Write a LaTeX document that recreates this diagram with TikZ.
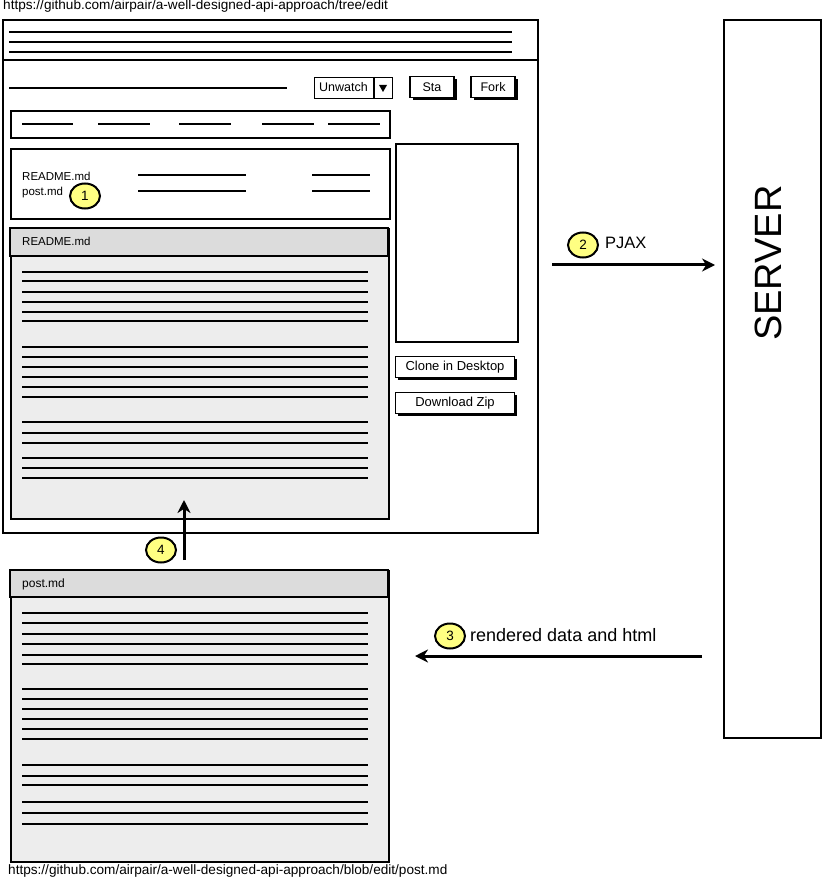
\documentclass[tikz,border=0pt]{standalone}
\usepackage{fontspec}
\setmainfont{Liberation Sans}
\usetikzlibrary{arrows.meta,shapes.geometric,shadows}
\definecolor{hdrgray}{RGB}{220,220,220}
\definecolor{bodygray}{RGB}{237,237,237}
\definecolor{badgeyellow}{RGB}{255,255,130}
\begin{document}
\begin{tikzpicture}[x=1pt,y=-1pt,
  frame/.style={draw=black,line width=1.6pt,inner sep=0pt,anchor=north west},
  txtline/.style={line width=1.3pt},
  sketchline/.style={line width=1.5pt},
  btn/.style={draw=black,line width=1.2pt,fill=white,inner sep=0pt,minimum height=21pt,
    font=\fontsize{12.5}{14}\selectfont,
    drop shadow={shadow xshift=2.5pt,shadow yshift=-2.5pt,fill=black,opacity=1}},
  label/.style={inner sep=0pt,anchor=west},
  badge/.style={ellipse,draw=black,line width=2pt,fill=badgeyellow,inner sep=0pt,
    minimum width=30pt,minimum height=25pt,font=\fontsize{13.5}{14}\selectfont},
  flow/.style={line width=3pt,-{Stealth[length=13pt,width=13pt]}}
]
\useasboundingbox (0,0) rectangle (823,882);
\fill[white] (0,0) rectangle (823,882);

% top url
\node[label] (urltop) at (3,6) {\fontsize{13.6}{15}\selectfont https://github.com/airpair/a-well-designed-api-approach/tree/edit};

% browser window
\node[frame,minimum width=535pt,minimum height=513pt] (browser) at (2,19) {};
\draw[line width=1.6pt] (2,60) -- (537,60);
\foreach \y in {32,42,52} \draw[sketchline] (9,\y) -- (512,\y);
\draw[sketchline] (9,88) -- (287,88);

% unwatch / star / fork
\node[draw=black,line width=1.2pt,inner sep=0pt,minimum width=78pt,minimum height=21pt,anchor=north west] (unwatch) at (314,77) {};
\node[label,font=\fontsize{12.5}{14}\selectfont] (unwatchtxt) at (319,87.5) {Unwatch};
\draw[line width=1.2pt] (374,77) -- (374,98);
\fill (379,85) -- (387,85) -- (383,92) -- cycle;
\node[btn,minimum width=44pt] (star) at (432,87) {Sta};
\node[btn,minimum width=44pt] (fork) at (493,87) {Fork};

% tab bar
\node[frame,minimum width=379pt,minimum height=27pt] (tabs) at (10,110) {};
\foreach \a/\b in {22/73,98/150,179/231,262/314,328/380} \draw[sketchline] (\a,124) -- (\b,124);

% file list
\node[frame,minimum width=379pt,minimum height=70pt] (files) at (10,148) {};
\node[label,font=\fontsize{11.5}{13}\selectfont] (readmeitem) at (22,176) {README.md};
\node[label,font=\fontsize{11.5}{13}\selectfont] (postitem) at (22,193) {post.md};
\foreach \y in {175,191} {\draw[sketchline] (138,\y) -- (246,\y); \draw[sketchline] (312,\y) -- (370,\y);}
\node[badge] (b1) at (85,196) {1};

% sidebar
\node[frame,minimum width=122pt,minimum height=198pt] (sidebar) at (395,143) {};
\node[btn,minimum width=119pt,font=\fontsize{13}{14}\selectfont] (clone) at (455,367) {Clone in Desktop};
\node[btn,minimum width=119pt,font=\fontsize{13}{14}\selectfont] (download) at (455,403) {Download Zip};

% README panel
\node[frame,fill=bodygray,minimum width=378pt,minimum height=290pt] (readme) at (10,228) {};
\draw[line width=1.6pt,fill=hdrgray] (10,228) rectangle (388,256);
\node[label,font=\fontsize{11.5}{13}\selectfont] (readmehdr) at (22,241) {README.md};
\foreach \y in {272,281,292,302,312,321,347,357,367,377,387,397,422,433,443,458,468,478}
  \draw[txtline] (22,\y) -- (368,\y);

% post.md panel
\node[frame,fill=bodygray,minimum width=378pt,minimum height=291pt] (postpanel) at (10,570) {};
\draw[line width=1.6pt,fill=hdrgray] (10,570) rectangle (388,597);
\node[label,font=\fontsize{12}{13}\selectfont] (posthdr) at (22,584) {post.md};
\foreach \y in {613,623,634,644,655,664,689,699,709,719,729,739,765,776,785,802,813,824}
  \draw[txtline] (22,\y) -- (368,\y);

% bottom url
\node[label] (urlbottom) at (8,871) {\fontsize{13.6}{15}\selectfont https://github.com/airpair/a-well-designed-api-approach/blob/edit/post.md};

% server
\node[frame,minimum width=97pt,minimum height=718pt] (server) at (723,19) {};
\node[rotate=90,inner sep=0pt,font=\fontsize{38}{40}\selectfont] (servertxt) at (768,263) {SERVER};

% arrow 2
\coordinate (a2start) at (552,265);
\draw[flow,shorten >=8pt] (a2start) -- (a2start -| server.west);
\node[badge] (b2) at (583,245) {2};
\node[label,font=\fontsize{16.5}{18}\selectfont] (pjax) at (605,243) {PJAX};

% arrow 3
\coordinate (a3end) at (415,656);
\draw[flow,shorten <=21pt] (server.west |- a3end) -- (a3end);
\node[badge] (b3) at (450,636) {3};
\node[label,font=\fontsize{18}{20}\selectfont] (rendered) at (470,635) {rendered data and html};

% arrow 4
\coordinate (a4start) at (184,560);
\coordinate (a4end) at (184,500);
\draw[flow] (a4start) -- (a4end);
\node[badge] (b4) at (161,550) {4};
\end{tikzpicture}
\end{document}
